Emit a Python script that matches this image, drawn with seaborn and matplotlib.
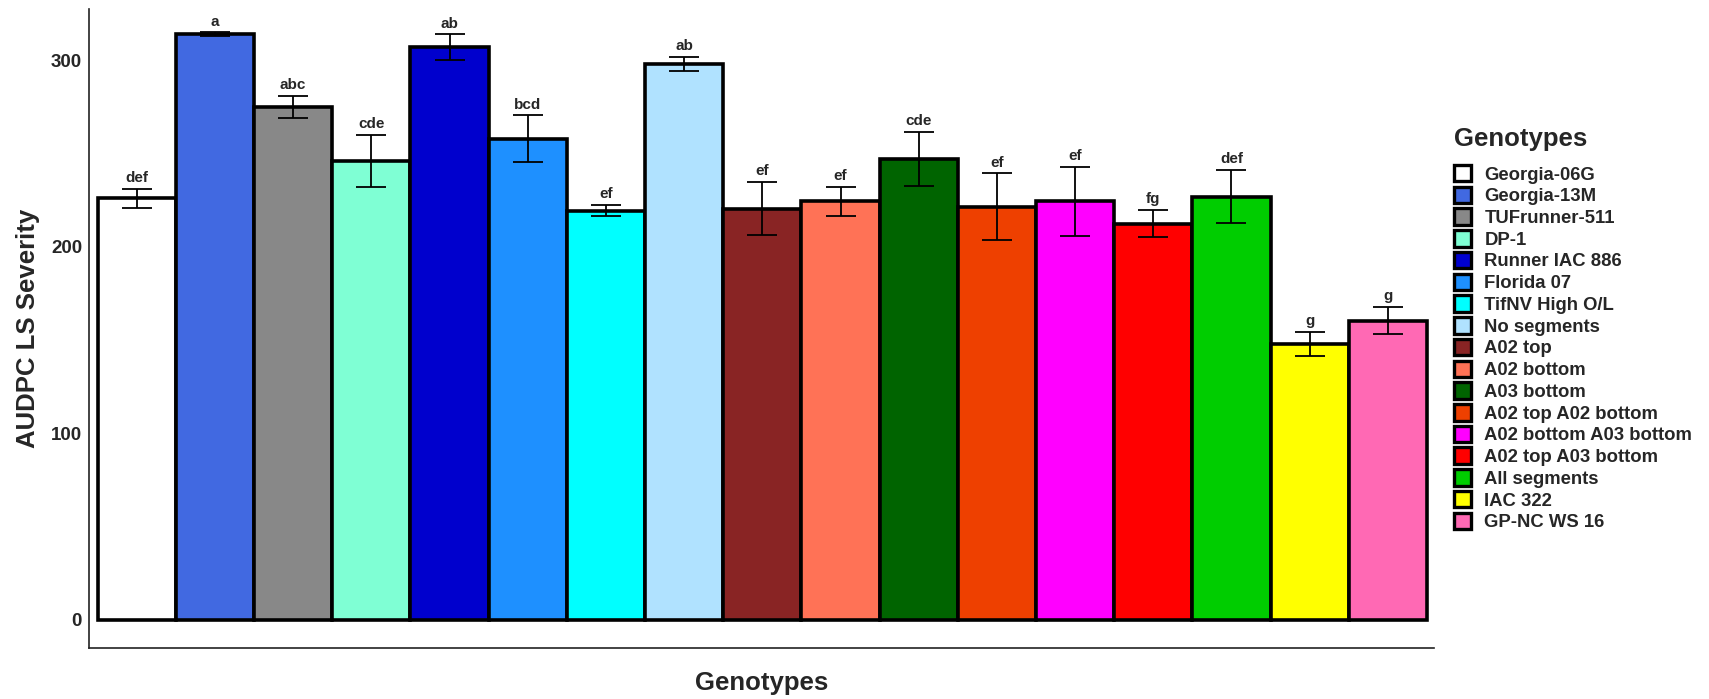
import matplotlib
matplotlib.use("Agg")
import matplotlib.pyplot as plt
from matplotlib.patches import Patch
import seaborn as sns
import pandas as pd

genotypes = [
    "Georgia-06G", "Georgia-13M", "TUFrunner-511", "DP-1", "Runner IAC 886",
    "Florida 07", "TifNV High O/L", "No segments", "A02 top", "A02 bottom",
    "A03 bottom", "A02 top A02 bottom", "A02 bottom A03 bottom",
    "A02 top A03 bottom", "All segments", "IAC 322", "GP-NC WS 16",
]
severity = [226, 314, 275, 246, 307, 258, 219.5, 298, 220.5, 224.5,
            247, 221.5, 224.5, 212.5, 227, 148, 160.5]
se = [5, 1, 6, 14, 7, 12.5, 3, 3.8, 14.3, 7.7,
      14.6, 18, 18.4, 7.3, 14.3, 6.5, 7.2]
letters = ["def", "a", "abc", "cde", "ab", "bcd", "ef", "ab", "ef", "ef",
           "cde", "ef", "ef", "fg", "def", "g", "g"]
colors = ["#FFFFFF", "#4169E1", "#888888", "#7FFFD4", "#0000CD", "#1E90FF",
          "#00FFFF", "#B0E2FF", "#892424", "#FF7256", "#006400", "#EE4000",
          "#FF00FF", "#FF0000", "#00CD00", "#FFFF00", "#FF69B4"]

df = pd.DataFrame({"Genotypes": genotypes, "AUDPC": severity, "se": se})

sns.set_theme(style="white")
plt.rcParams["font.family"] = ["Liberation Sans", "DejaVu Sans"]

fig = plt.figure(figsize=(17.09, 6.99), dpi=100)
ax = fig.add_axes([0.0521, 0.073, 0.787, 0.914])

sns.barplot(data=df, x="Genotypes", y="AUDPC", hue="Genotypes",
            palette=colors, saturation=1, width=1.0, edgecolor="black",
            linewidth=2.6, legend=False, ax=ax)

xpos = list(range(len(genotypes)))
ax.errorbar(xpos, df["AUDPC"], yerr=df["se"], fmt="none", ecolor="black",
            elinewidth=1.3, capsize=11, capthick=1.3, zorder=5)

for x, m, s, lab in zip(xpos, severity, se, letters):
    ax.text(x, m + s + 2, lab, ha="center", va="bottom", fontsize=11,
            fontweight="bold",
            family=["Liberation Sans Narrow", "Liberation Sans"])

ax.set_xlim(-0.61, 16.59)
ax.set_ylim(-15, 327.5)
ax.set_yticks([0, 100, 200, 300])
ax.set_xticks(xpos)
ax.set_xticklabels([])
ax.tick_params(axis="y", labelsize=13.5, length=3, width=0.8, color="#333333", pad=2)
ax.tick_params(axis="x", length=3, width=0.8, color="#555555")
for t in ax.get_yticklabels():
    t.set_fontweight("bold")

ax.set_xlabel("Genotypes", fontsize=18.5, fontweight="bold", labelpad=10)
ax.set_ylabel("AUDPC LS Severity", fontsize=18.5, fontweight="bold", labelpad=8)

for side in ["top", "right"]:
    ax.spines[side].set_visible(False)
for side in ["left", "bottom"]:
    ax.spines[side].set_color("#222222")
    ax.spines[side].set_linewidth(1.2)

handles = [Patch(facecolor=c, edgecolor="black", linewidth=2.4) for c in colors]
leg = fig.legend(handles, genotypes, title="Genotypes", loc="upper left",
                 bbox_to_anchor=(0.841, 0.842), frameon=False,
                 prop={"weight": "bold", "size": 13.3},
                 title_fontproperties={"weight": "bold", "size": 18.5},
                 handlelength=0.9, handleheight=1.0, handletextpad=0.75,
                 labelspacing=0.17)
leg._legend_box.align = "left"
leg._legend_box.sep = 10

fig.savefig("out.png", dpi=100)
